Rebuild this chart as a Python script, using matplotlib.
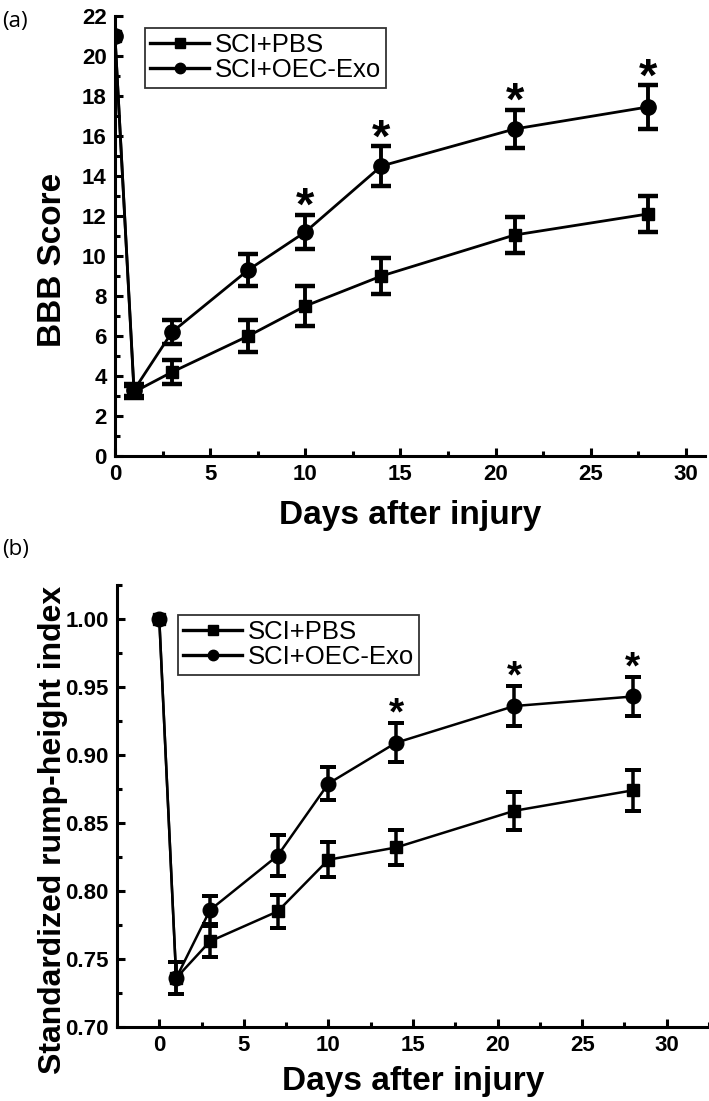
import matplotlib
matplotlib.use("Agg")
import matplotlib.pyplot as plt
from matplotlib.ticker import MultipleLocator
import numpy as np

plt.rcParams['font.family'] = ['Liberation Sans', 'DejaVu Sans']

# 数据
days = [0, 1, 3, 7, 10, 14, 21, 28]
labels = ["SCI+PBS", "SCI+OEC-Exo"]

bbb_pbs = [21, 3.2, 4.2, 6.0, 7.5, 9.0, 11.05, 12.1]
bbb_pbs_err = [0, 0.3, 0.6, 0.8, 1.0, 0.9, 0.92, 0.92]
bbb_oec = [21, 3.3, 6.2, 9.3, 11.2, 14.5, 16.35, 17.45]
bbb_oec_err = [0, 0.3, 0.58, 0.8, 0.87, 1.0, 0.97, 1.1]
bbb_sig_days = [10, 14, 21, 28]

rump_pbs = [1.0, 0.736, 0.763, 0.785, 0.823, 0.832, 0.859, 0.874]
rump_pbs_err = [0, 0.012, 0.0115, 0.012, 0.013, 0.013, 0.014, 0.015]
rump_oec = [1.0, 0.736, 0.786, 0.826, 0.879, 0.909, 0.936, 0.943]
rump_oec_err = [0, 0.012, 0.0105, 0.015, 0.012, 0.0145, 0.015, 0.014]
rump_sig_days = [14, 21, 28]


def draw_panel(ax, pbs, pbs_err, oec, oec_err, sig_days, lw, cap, ms_sq, ms_ci,
               star_size, star_off, leg_anchor, fig):
    x = np.array(days)
    ax.plot(x, pbs, color='black', lw=lw, marker='s', ms=ms_sq,
            zorder=3, label=labels[0])
    ax.plot(x, oec, color='black', lw=lw, marker='o', ms=ms_ci,
            zorder=3, label=labels[1])
    # 第 0 天没有误差棒
    ax.errorbar(x[1:], pbs[1:], yerr=pbs_err[1:], fmt='none', ecolor='black',
                elinewidth=lw * 1.4, capsize=cap, capthick=lw * 1.6, zorder=2)
    ax.errorbar(x[1:], oec[1:], yerr=oec_err[1:], fmt='none', ecolor='black',
                elinewidth=lw * 1.4, capsize=cap, capthick=lw * 1.6, zorder=2)
    for d in sig_days:
        i = days.index(d)
        ax.annotate('*', (d, oec[i] + oec_err[i]), xytext=(0, star_off),
                    textcoords='offset points', ha='center', va='baseline',
                    fontsize=star_size, fontweight='bold')

    for s in ['top', 'right']:
        ax.spines[s].set_visible(False)
    for s in ['left', 'bottom']:
        ax.spines[s].set_linewidth(2.2)
    ax.tick_params(which='major', direction='in', length=6, width=2.2,
                   labelsize=16, pad=6)
    ax.tick_params(which='minor', direction='in', length=3.5, width=2.2)

    leg = ax.legend(loc='upper left', bbox_to_anchor=leg_anchor,
                    bbox_transform=fig.transFigure, frameon=True, fancybox=False,
                    edgecolor='black', fontsize=18.5, handlelength=2.3,
                    handletextpad=0.2, borderpad=0.2, labelspacing=0.05,
                    borderaxespad=0)
    leg.get_frame().set_linewidth(1.3)
    for h in leg.legend_handles:
        h.set_markersize(7.5)
        h.set_linewidth(2.4)


fig = plt.figure(figsize=(7.09, 11.01), dpi=100)

# (a) BBB 评分
ax1 = fig.add_axes([0.1622, 0.5858, 0.832, 0.3997])
draw_panel(ax1, bbb_pbs, bbb_pbs_err, bbb_oec, bbb_oec_err, bbb_sig_days,
           lw=2.0, cap=7, ms_sq=9, ms_ci=11, star_size=34, star_off=-4,
           leg_anchor=(0.2045, 0.9746), fig=fig)
ax1.set_xlim(0, 31)
ax1.set_ylim(0, 22)
ax1.set_xticks(range(0, 31, 5))
ax1.set_xticklabels([str(v) for v in range(0, 31, 5)], fontweight='bold')
ax1.xaxis.set_minor_locator(MultipleLocator(2.5))
ax1.set_yticks(range(0, 23, 2))
ax1.set_yticklabels([str(v) for v in range(0, 23, 2)], fontweight='bold')
ax1.yaxis.set_minor_locator(MultipleLocator(1))
ax1.set_xlabel("Days after injury", fontsize=24, fontweight='bold')
ax1.set_ylabel("BBB Score", fontsize=24, fontweight='bold')
ax1.xaxis.set_label_coords(0.5, -0.10)
ax1.yaxis.set_label_coords(-0.08, 0.445)
fig.text(0.003, 0.99, "(a)", fontsize=16, family=['Open Sans', 'DejaVu Sans'],
         va='top')

# (b) 标准化臀高指数
ax2 = fig.add_axes([0.165, 0.0672, 0.835, 0.4015])
draw_panel(ax2, rump_pbs, rump_pbs_err, rump_oec, rump_oec_err, rump_sig_days,
           lw=1.8, cap=5.5, ms_sq=9, ms_ci=10.5, star_size=28, star_off=-1,
           leg_anchor=(0.251, 0.4414), fig=fig)
ax2.set_xlim(-2.5, 32.5)
ax2.set_ylim(0.70, 1.025)
ax2.set_xticks(range(0, 31, 5))
ax2.set_xticklabels([str(v) for v in range(0, 31, 5)], fontweight='bold')
ax2.xaxis.set_minor_locator(MultipleLocator(2.5))
yt = [0.70, 0.75, 0.80, 0.85, 0.90, 0.95, 1.00]
ax2.set_yticks(yt)
ax2.set_yticklabels(["%.2f" % v for v in yt], fontweight='bold')
ax2.yaxis.set_minor_locator(MultipleLocator(0.025))
ax2.set_xlabel("Days after injury", fontsize=24, fontweight='bold')
ax2.set_ylabel("Standardized rump-height index", fontsize=23, fontweight='bold')
ax2.xaxis.set_label_coords(0.5, -0.088)
ax2.yaxis.set_label_coords(-0.083, 0.446)
fig.text(0.003, 0.51, "(b)", fontsize=16, family=['Open Sans', 'DejaVu Sans'],
         va='top')

fig.savefig("out.png", dpi=100)
